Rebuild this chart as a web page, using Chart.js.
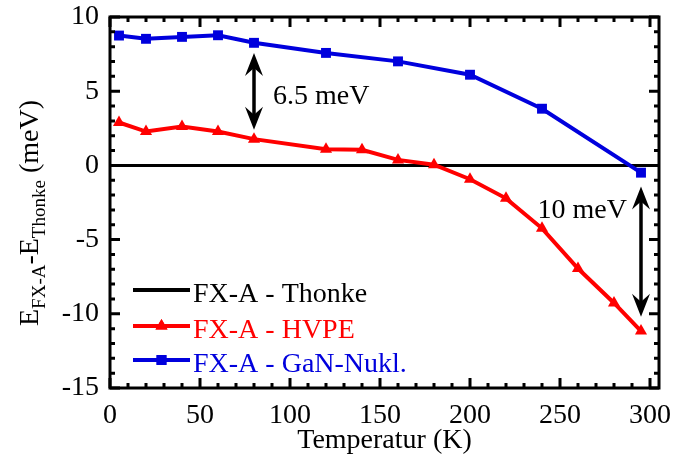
<!DOCTYPE html>
<html><head><meta charset="utf-8">
<script src="https://cdn.jsdelivr.net/npm/chart.js@4.4.1/dist/chart.umd.min.js"></script>
<style>html,body{margin:0;padding:0;background:#fff}#wrap{width:675px;height:462px}</style>
</head><body><div id="wrap"><canvas id="c" width="675" height="462"></canvas></div>
<script>
// Exciton FX-A energy offsets relative to the Thonke reference (meV) vs. temperature (K)
const temperaturesHVPE = [5, 20, 40, 60, 80, 120, 140, 160, 180, 200, 220, 240, 260, 280, 295];
const offsetHVPE = [2.89, 2.28, 2.62, 2.28, 1.77, 1.09, 1.05, 0.37, 0.05, -0.93, -2.22, -4.24, -6.95, -9.27, -11.16];
const temperaturesNukl = [5, 20, 40, 60, 80, 120, 160, 200, 240, 295];
const offsetNukl = [8.75, 8.53, 8.66, 8.77, 8.26, 7.58, 7.01, 6.11, 3.82, -0.49];
const temperaturesThonke = [0, 305];
const offsetThonke = [0, 0];
const xTicks = [0, 50, 100, 150, 200, 250, 300];
const yTicks = [-15, -10, -5, 0, 5, 10];
const seriesNames = ['FX-A - Thonke', 'FX-A - HVPE', 'FX-A - GaN-Nukl.'];
// energy gap markers: double arrows with their labels (data coordinates)
const gapArrows = [
  { x: 80, top: 7.58, bottom: 2.40, label: '6.5 meV', labelY: 4.16, side: 'right' },
  { x: 295, top: -1.43, bottom: -10.2, label: '10 meV', labelY: -3.55, side: 'left' }
];

const FONT = 'Liberation Serif, Times New Roman, serif';
const FS = 28;
const RED = '#ff0000', BLUE = '#0000dd', BLACK = '#000000';

const toPoints = (xs, ys) => xs.map((x, i) => ({ x, y: ys[i] }));

// frame with inward major/minor ticks on all four sides
const framePlugin = {
  id: 'frame',
  afterDatasetsDraw(chart) {
    const { ctx, chartArea: a, scales: { x, y } } = chart;
    ctx.save();
    ctx.strokeStyle = BLACK;
    ctx.lineWidth = 3;
    ctx.beginPath();
    for (let v = 0; v <= 300; v += 10) {
      const px = x.getPixelForValue(v);
      const len = v % 50 === 0 ? 10 : 5;
      ctx.moveTo(px, a.bottom); ctx.lineTo(px, a.bottom - len);
      ctx.moveTo(px, a.top); ctx.lineTo(px, a.top + len);
    }
    for (let v = -15; v <= 10; v += 1) {
      const py = y.getPixelForValue(v);
      const len = v % 5 === 0 ? 10 : 5;
      ctx.moveTo(a.left, py); ctx.lineTo(a.left + len, py);
      ctx.moveTo(a.right, py); ctx.lineTo(a.right - len, py);
    }
    ctx.stroke();
    ctx.lineWidth = 3;
    ctx.strokeRect(a.left, a.top, a.right - a.left, a.bottom - a.top);
    ctx.restore();
  }
};

function arrowHead(ctx, x, y, dir) {
  // dir = -1 points up, +1 points down
  ctx.beginPath();
  ctx.moveTo(x, y);
  ctx.lineTo(x - 9, y - dir * 23);
  ctx.lineTo(x, y - dir * 15);
  ctx.lineTo(x + 9, y - dir * 23);
  ctx.closePath();
  ctx.fill();
}

const annotationPlugin = {
  id: 'gaps',
  afterDatasetsDraw(chart) {
    const { ctx, scales: { x, y } } = chart;
    ctx.save();
    ctx.fillStyle = BLACK; ctx.strokeStyle = BLACK; ctx.lineWidth = 3.5;
    gapArrows.forEach(g => {
      const px = x.getPixelForValue(g.x);
      const pt = y.getPixelForValue(g.top);
      const pb = y.getPixelForValue(g.bottom);
      ctx.beginPath(); ctx.moveTo(px, pt + 12); ctx.lineTo(px, pb - 12); ctx.stroke();
      arrowHead(ctx, px, pt, -1);
      arrowHead(ctx, px, pb, 1);
      ctx.font = FS + 'px ' + FONT;
      ctx.textBaseline = 'alphabetic';
      ctx.textAlign = g.side === 'right' ? 'left' : 'right';
      ctx.fillText(g.label, g.side === 'right' ? px + 19 : px - 14, y.getPixelForValue(g.labelY));
    });
    ctx.restore();
  }
};

const legendPlugin = {
  id: 'innerLegend',
  afterDraw(chart) {
    const { ctx, chartArea: a } = chart;
    const colors = [BLACK, RED, BLUE];
    const markers = [null, 'triangle', 'rect'];
    const rowOffsets = [98, 62, 28];
    ctx.save();
    seriesNames.forEach((name, i) => {
      const yy = a.bottom - rowOffsets[i];
      const x0 = a.left + 23, x1 = a.left + 80;
      ctx.strokeStyle = colors[i]; ctx.fillStyle = colors[i];
      ctx.lineWidth = 4;
      ctx.beginPath(); ctx.moveTo(x0, yy); ctx.lineTo(x1, yy); ctx.stroke();
      if (markers[i]) {
        Chart.helpers.drawPoint(ctx, { pointStyle: markers[i], radius: 7, borderWidth: 0, rotation: 0 }, (x0 + x1) / 2, yy);
        ctx.fill();
      }
      ctx.font = FS + 'px ' + FONT;
      ctx.textAlign = 'left'; ctx.textBaseline = 'alphabetic';
      ctx.fillText(name, x1 + 3, yy + 12);
    });
    ctx.restore();
  }
};

// rotated y-axis title with subscripts
const yTitlePlugin = {
  id: 'yTitle',
  afterDraw(chart) {
    const { ctx } = chart;
    const parts = [
      { t: 'E', sub: false }, { t: 'FX-A', sub: true },
      { t: '-E', sub: false }, { t: 'Thonke', sub: true },
      { t: ' (meV)', sub: false }
    ];
    ctx.save();
    ctx.translate(38, 326);
    ctx.rotate(-Math.PI / 2);
    ctx.fillStyle = BLACK;
    ctx.textAlign = 'left'; ctx.textBaseline = 'alphabetic';
    let cx = 0;
    parts.forEach(p => {
      ctx.font = (p.sub ? '19px ' : FS + 'px ') + FONT;
      ctx.fillText(p.t, cx, p.sub ? 7 : 0);
      cx += ctx.measureText(p.t).width;
    });
    ctx.restore();
  }
};

new Chart(document.getElementById('c'), {
  type: 'line',
  data: {
    datasets: [
      {
        label: seriesNames[2], data: toPoints(temperaturesNukl, offsetNukl),
        borderColor: BLUE, backgroundColor: BLUE, borderWidth: 4,
        pointStyle: 'rect', pointRadius: 7, pointBorderWidth: 0, order: 1
      },
      {
        label: seriesNames[1], data: toPoints(temperaturesHVPE, offsetHVPE),
        borderColor: RED, backgroundColor: RED, borderWidth: 4,
        pointStyle: 'triangle', pointRadius: 7, pointBorderWidth: 0, order: 2
      },
      {
        label: seriesNames[0], data: toPoints(temperaturesThonke, offsetThonke),
        borderColor: BLACK, borderWidth: 3, pointRadius: 0, order: 3
      }
    ]
  },
  options: {
    responsive: false,
    animation: false,
    devicePixelRatio: 1,
    layout: { padding: { top: 17, right: 16, left: 0, bottom: 0 } },
    plugins: { legend: { display: false }, tooltip: { enabled: false } },
    scales: {
      x: {
        type: 'linear', min: 0, max: 305,
        afterBuildTicks: s => { s.ticks = xTicks.map(v => ({ value: v })); },
        afterFit: s => { s.height = 74; s.paddingLeft = 0; s.paddingRight = 0; },
        grid: { display: false, drawTicks: false },
        border: { display: false },
        ticks: { color: BLACK, font: { family: FONT, size: FS }, padding: 11, maxRotation: 0, autoSkip: false },
        title: { display: true, text: 'Temperatur (K)', color: BLACK, font: { family: FONT, size: FS }, padding: { top: 0, bottom: 5 } }
      },
      y: {
        type: 'linear', min: -15, max: 10,
        afterBuildTicks: s => { s.ticks = yTicks.map(v => ({ value: v })); },
        afterFit: s => { s.width = 110; s.paddingTop = 0; s.paddingBottom = 0; },
        grid: { display: false, drawTicks: false },
        border: { display: false },
        ticks: { color: BLACK, font: { family: FONT, size: FS }, padding: 11 }
      }
    }
  },
  plugins: [framePlugin, annotationPlugin, legendPlugin, yTitlePlugin]
});
</script>
</body></html>
